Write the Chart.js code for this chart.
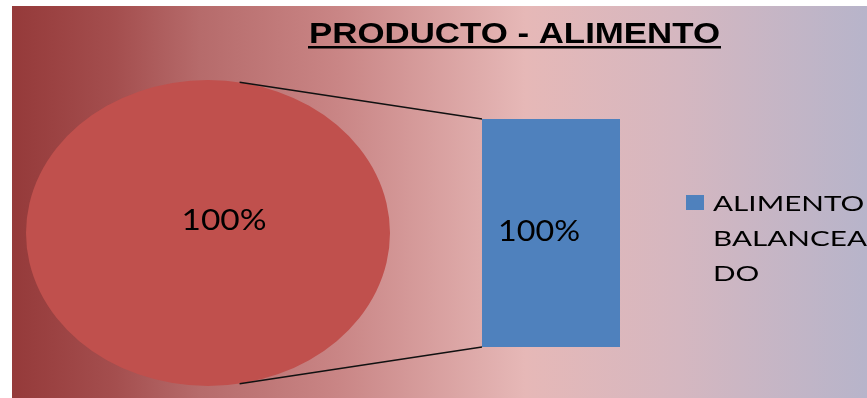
<!DOCTYPE html>
<html>
<head>
<meta charset="utf-8">
<script src="https://cdn.jsdelivr.net/npm/chart.js@4.4.1/dist/chart.umd.min.js"></script>
<style>
html, body { margin: 0; padding: 0; background: #fff; }
#wrap { position: relative; width: 867px; height: 398px; overflow: hidden; }
#bg {
	position: absolute; left: 12px; top: 6px; right: 0; bottom: 0;
	background: linear-gradient(to right, #953a3a 0%, #a44e4e 12%, #b66b6b 22%, #c98585 38%, #e6b8b7 60%, #d5b7c0 78%, #b7b4ca 100%);
}
#pie { position: absolute; left: 26px; top: 80px; }
#bar { position: absolute; left: 0; top: 0; }
</style>
</head>
<body>
<div id="wrap">
	<div id="bg"></div>
	<canvas id="pie" width="364" height="306"></canvas>
	<canvas id="bar" width="867" height="398"></canvas>
</div>
<script>
const chartTitle = "PRODUCTO - ALIMENTO";
const categories = ["ALIMENTO BALANCEADO"];
const pieValues = [100];
const barValues = [100];
const legendLines = ["ALIMENTO", "BALANCEA", "DO"];

const pieColor = "#c0504d";
const barColor = "#4f81bd";

// draws text stretched to a given width (the original picture was stretched)
function stretchText(ctx, text, x, y, font, width, align) {
	ctx.save();
	ctx.font = font;
	const w = ctx.measureText(text).width;
	const sx = width ? width / w : 1;
	ctx.translate(x, y);
	ctx.scale(sx, 1);
	ctx.textAlign = align || "center";
	ctx.textBaseline = "alphabetic";
	ctx.fillStyle = "#000";
	ctx.fillText(text, 0, 0);
	ctx.restore();
}

// pie is drawn as an ellipse, like the stretched Excel chart
const stretchPie = {
	id: "stretchPie",
	beforeDatasetsDraw(chart) {
		const arc = chart.getDatasetMeta(0).data[0];
		const ctx = chart.ctx;
		ctx.save();
		ctx.translate(arc.x, arc.y);
		ctx.scale(chart.width / chart.height, 1);
		ctx.translate(-arc.x, -arc.y);
	},
	afterDatasetsDraw(chart) {
		const ctx = chart.ctx;
		ctx.restore();
		const arc = chart.getDatasetMeta(0).data[0];
		stretchText(ctx, pieValues[0] + "%", arc.x + 16, arc.y - 3, "29px Lato", 85);
	},
};

const pieChart = new Chart(document.getElementById("pie"), {
	type: "pie",
	data: {
		labels: categories,
		datasets: [{ data: pieValues, backgroundColor: pieColor, borderWidth: 0, hoverOffset: 0 }],
	},
	options: {
		responsive: false,
		animation: false,
		events: [],
		layout: { padding: 0 },
		plugins: { legend: { display: false }, tooltip: { enabled: false } },
	},
	plugins: [stretchPie],
});

const decor = {
	id: "decor",
	afterDatasetsDraw(chart) {
		const ctx = chart.ctx;
		const bar = chart.getDatasetMeta(0).data[0];
		const left = bar.x - bar.width / 2;

		// connector lines from the ellipse to the bar corners
		const arc = pieChart.getDatasetMeta(0).data[0];
		const pc = pieChart.canvas;
		const cx = pc.offsetLeft + arc.x;
		const cy = pc.offsetTop + arc.y;
		const rx = arc.outerRadius * pieChart.width / pieChart.height;
		const ry = arc.outerRadius;
		const t = 80 * Math.PI / 180;
		ctx.save();
		ctx.strokeStyle = "#111";
		ctx.lineWidth = 1.5;
		ctx.beginPath();
		ctx.moveTo(cx + rx * Math.cos(t), cy - ry * Math.sin(t));
		ctx.lineTo(left, bar.y);
		ctx.moveTo(cx + rx * Math.cos(t), cy + ry * Math.sin(t));
		ctx.lineTo(left, bar.base);
		ctx.stroke();
		ctx.restore();

		// bar label
		stretchText(ctx, barValues[0] + "%", bar.x - 12, (bar.y + bar.base) / 2 + 8, "29px Lato", 82);

		// title, underlined
		stretchText(ctx, chartTitle, 309, 43, "bold 29px 'Liberation Sans'", 411, "left");
		ctx.fillStyle = "#000";
		ctx.fillRect(308, 46, 413, 2.5);

		// legend
		ctx.fillStyle = barColor;
		ctx.fillRect(686, 195, 18, 15);
		ctx.font = "22px Lato";
		const sx = 154 / ctx.measureText(legendLines[1]).width;
		legendLines.forEach((line, i) => {
			ctx.save();
			ctx.translate(713, 211 + i * 35);
			ctx.scale(sx, 1);
			ctx.font = "22px Lato";
			ctx.fillStyle = "#000";
			ctx.textAlign = "left";
			ctx.fillText(line, 0, 0);
			ctx.restore();
		});
	},
};

new Chart(document.getElementById("bar"), {
	type: "bar",
	data: {
		labels: categories,
		datasets: [{
			label: categories[0],
			data: barValues,
			backgroundColor: barColor,
			borderWidth: 0,
			barPercentage: 1,
			categoryPercentage: 1,
		}],
	},
	options: {
		responsive: false,
		animation: false,
		events: [],
		layout: { padding: { left: 482, right: 247, top: 119, bottom: 51 } },
		plugins: { legend: { display: false }, title: { display: false }, tooltip: { enabled: false } },
		scales: {
			x: { display: false },
			y: { display: false, min: 0, max: 100 },
		},
	},
	plugins: [decor],
});
</script>
</body>
</html>
